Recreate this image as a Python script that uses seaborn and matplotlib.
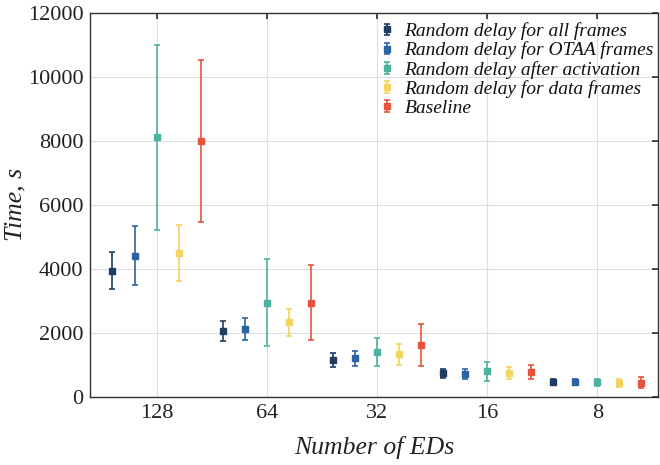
import numpy as np
import matplotlib
matplotlib.use("Agg")
import matplotlib.pyplot as plt
from matplotlib.container import ErrorbarContainer
from matplotlib.legend_handler import HandlerErrorbar
import seaborn as sns

# data
groups = ["128", "64", "32", "16", "8"]
series = [
    "Random delay for all frames",
    "Random delay for OTAA frames",
    "Random delay after activation",
    "Random delay for data frames",
    "Baseline",
]
colors = ["#1d3d63", "#2c63a3", "#4cb2a0", "#f4d35e", "#e8533d"]

all_mean = [3930, 2050, 1150, 730, 455]
all_err = [580, 320, 210, 145, 95]
otaa_mean = [4400, 2115, 1200, 710, 455]
otaa_err = [920, 355, 230, 160, 90]
act_mean = [8100, 2930, 1390, 790, 445]
act_err = [2880, 1360, 430, 305, 115]
data_mean = [4490, 2320, 1320, 740, 430]
data_err = [865, 430, 320, 175, 125]
base_mean = [7990, 2940, 1620, 780, 435]
base_err = [2540, 1160, 660, 215, 175]

means = [all_mean, otaa_mean, act_mean, data_mean, base_mean]
errs = [all_err, otaa_err, act_err, data_err, base_err]

sns.set_theme(style="whitegrid")
plt.rcParams['font.family'] = ['Liberation Serif', 'DejaVu Serif']

fig, ax = plt.subplots(figsize=(6.6, 4.65), dpi=100)
x = np.arange(len(groups))
offsets = [-0.4, -0.2, 0.0, 0.2, 0.4]
for name, m, e, c, off in zip(series, means, errs, colors, offsets):
    ax.errorbar(x + off, m, yerr=e, fmt='s', color=c, ecolor=c, markersize=5,
                capsize=2.5, elinewidth=1.2, capthick=1.2, label=name)

ax.set_xlim(-0.6, 4.55)
ax.set_ylim(0, 12000)
ax.set_xticks(x)
ax.set_xticklabels(groups)
ax.set_yticks(np.arange(0, 12001, 2000))
ax.tick_params(direction='in', length=4, top=True, right=True, labelsize=16,
               colors='#333333', labelcolor='#222222', pad=5)
ax.grid(True, color='#dddddd', linewidth=0.8)
for s in ax.spines.values():
    s.set_color('#333333')
    s.set_linewidth(1.0)
ax.set_facecolor('white')

ax.set_xlabel('Number of EDs', fontsize=18.5, fontstyle='italic', color='#222222', labelpad=10)
ax.set_ylabel('Time, s', fontsize=18.5, fontstyle='italic', color='#222222', labelpad=1)

leg = ax.legend(loc='upper right', bbox_to_anchor=(1.01, 1.0), frameon=False,
                prop={'style': 'italic', 'size': 14}, labelspacing=0.07,
                handlelength=0.6, handletextpad=0.6, borderaxespad=0.1,
                handler_map={ErrorbarContainer: HandlerErrorbar(xerr_size=0.3, yerr_size=0.3)})
for t in leg.get_texts():
    t.set_color('#111111')

fig.subplots_adjust(left=0.137, right=0.997, top=0.973, bottom=0.147)
fig.savefig('out.png', dpi=100)
